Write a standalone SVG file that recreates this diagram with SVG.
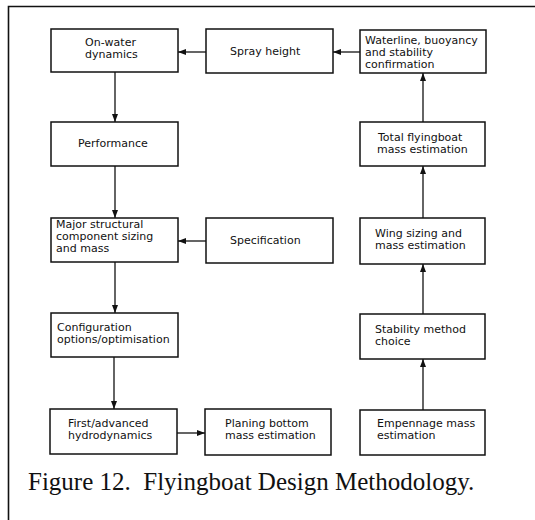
<svg xmlns="http://www.w3.org/2000/svg" width="535" height="520" viewBox="0 0 535 520">
<defs>
<marker id="ah" markerWidth="8" markerHeight="6" refX="8" refY="3" orient="auto" markerUnits="userSpaceOnUse">
<path d="M0,0 L8,3 L0,6 Z" fill="#111"/>
</marker>
<style>
.box{fill:#fff;stroke:#111;stroke-width:1.5}
.t{font-family:"DejaVu Sans",sans-serif;font-size:11px;fill:#111}
.c{stroke:#111;stroke-width:1.3;fill:none;marker-end:url(#ah)}
.cap{font-family:"Liberation Serif","Times New Roman",serif;font-size:25px;fill:#111;white-space:pre}
</style>
</defs>
<rect width="535" height="520" fill="#fff"/>
<path d="M535,6.5 H8.5 V520" fill="none" stroke="#111" stroke-width="1.6"/>

<g id="connectors">
<path class="c" d="M115,72 V122"/>
<path class="c" d="M115,166 V218"/>
<path class="c" d="M115,262 V313"/>
<path class="c" d="M114,357 V409"/>
<path class="c" d="M177,433 H205"/>
<path class="c" d="M331,433 H285"/>
<path class="c" d="M423,410 V359"/>
<path class="c" d="M423,314 V264"/>
<path class="c" d="M423,218 V166"/>
<path class="c" d="M423,122 V73"/>
<path class="c" d="M360,52 H333"/>
<path class="c" d="M206,52 H178"/>
<path class="c" d="M206,241 H178"/>
</g>

<g id="on-water">
<rect class="box" x="51" y="29" width="127" height="43"/>
<text class="t" x="85" y="46">On-water</text>
<text class="t" x="85" y="58">dynamics</text>
</g>
<g id="performance">
<rect class="box" x="51" y="122" width="127" height="44"/>
<text class="t" x="78" y="147">Performance</text>
</g>
<g id="major-structural">
<rect class="box" x="51" y="218" width="127" height="44"/>
<text class="t" x="56" y="228">Major structural</text>
<text class="t" x="56" y="240">component sizing</text>
<text class="t" x="56" y="252">and mass</text>
</g>
<g id="configuration">
<rect class="box" x="51" y="313" width="127" height="44"/>
<text class="t" x="57" y="331">Configuration</text>
<text class="t" x="57" y="343">options/optimisation</text>
</g>
<g id="first-advanced">
<rect class="box" x="50" y="409" width="127" height="45"/>
<text class="t" x="68" y="427">First/advanced</text>
<text class="t" x="68" y="439">hydrodynamics</text>
</g>
<g id="spray-height">
<rect class="box" x="206" y="29" width="127" height="44"/>
<text class="t" x="230" y="55">Spray height</text>
</g>
<g id="specification">
<rect class="box" x="206" y="218" width="127" height="45"/>
<text class="t" x="230" y="244">Specification</text>
</g>
<g id="planing-bottom">
<rect class="box" x="205" y="409" width="126" height="46"/>
<text class="t" x="225" y="427">Planing bottom</text>
<text class="t" x="225" y="439">mass estimation</text>
</g>
<g id="waterline">
<rect class="box" x="360" y="30" width="126" height="43"/>
<text class="t" x="365" y="44">Waterline, buoyancy</text>
<text class="t" x="365" y="56">and stability</text>
<text class="t" x="365" y="68">confirmation</text>
</g>
<g id="total-mass">
<rect class="box" x="360" y="122" width="125" height="44"/>
<text class="t" x="378" y="141">Total flyingboat</text>
<text class="t" x="377" y="153">mass estimation</text>
</g>
<g id="wing-sizing">
<rect class="box" x="360" y="218" width="125" height="46"/>
<text class="t" x="375" y="237">Wing sizing and</text>
<text class="t" x="375" y="249">mass estimation</text>
</g>
<g id="stability-method">
<rect class="box" x="360" y="314" width="125" height="45"/>
<text class="t" x="375" y="333">Stability method</text>
<text class="t" x="375" y="345">choice</text>
</g>
<g id="empennage">
<rect class="box" x="360" y="410" width="125" height="45"/>
<text class="t" x="377" y="427">Empennage mass</text>
<text class="t" x="377" y="439">estimation</text>
</g>

<text class="cap" x="28" y="490">Figure 12.  Flyingboat Design Methodology.</text>
</svg>
